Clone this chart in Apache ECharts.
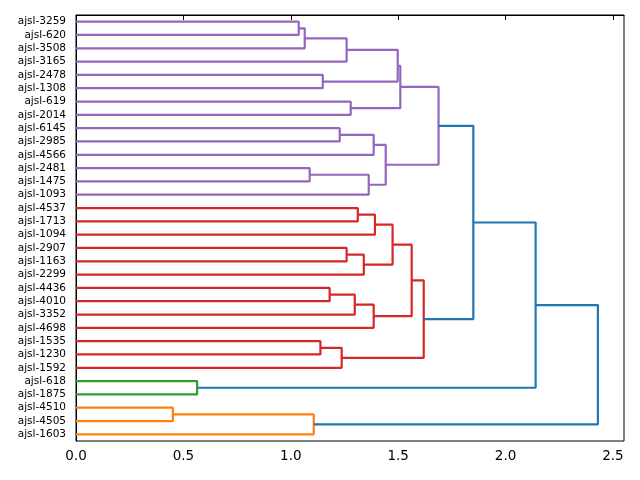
<!DOCTYPE html>
<html>
<head>
<meta charset="utf-8">
<script src="https://cdn.jsdelivr.net/npm/echarts@6/dist/echarts.min.js"></script>
<style>
  html, body { margin: 0; padding: 0; background: #fff; }
  #chart { width: 640px; height: 480px; }
</style>
</head>
<body>
<div id="chart"></div>
<script>
// leaves from top to bottom
var leafLabels = [
  'ajsl-3259', 'ajsl-620', 'ajsl-3508', 'ajsl-3165', 'ajsl-2478', 'ajsl-1308',
  'ajsl-619', 'ajsl-2014', 'ajsl-6145', 'ajsl-2985', 'ajsl-4566', 'ajsl-2481',
  'ajsl-1475', 'ajsl-1093', 'ajsl-4537', 'ajsl-1713', 'ajsl-1094', 'ajsl-2907',
  'ajsl-1163', 'ajsl-2299', 'ajsl-4436', 'ajsl-4010', 'ajsl-3352', 'ajsl-4698',
  'ajsl-1535', 'ajsl-1230', 'ajsl-1592', 'ajsl-618', 'ajsl-1875', 'ajsl-4510',
  'ajsl-4505', 'ajsl-1603'
];

// linkage: [childA, childB, distance]; new node ids start at 32
var merges = [
  [0, 1, 1.037],    // 32
  [32, 2, 1.065],   // 33
  [33, 3, 1.26],    // 34
  [4, 5, 1.149],    // 35
  [34, 35, 1.498],  // 36
  [6, 7, 1.279],    // 37
  [36, 37, 1.51],   // 38
  [8, 9, 1.228],    // 39
  [39, 10, 1.386],  // 40
  [11, 12, 1.088],  // 41
  [41, 13, 1.363],  // 42
  [40, 42, 1.442],  // 43
  [38, 43, 1.688],  // 44
  [14, 15, 1.312],  // 45
  [45, 16, 1.392],  // 46
  [17, 18, 1.26],   // 47
  [47, 19, 1.34],   // 48
  [46, 48, 1.474],  // 49
  [20, 21, 1.181],  // 50
  [50, 22, 1.298],  // 51
  [51, 23, 1.386],  // 52
  [49, 52, 1.563],  // 53
  [24, 25, 1.138],  // 54
  [54, 26, 1.237],  // 55
  [53, 55, 1.619],  // 56
  [44, 56, 1.85],   // 57
  [27, 28, 0.564],  // 58
  [57, 58, 2.14],   // 59
  [29, 30, 0.451],  // 60
  [60, 31, 1.107],  // 61
  [59, 61, 2.43]    // 62
];

var xTicks = [0, 0.5, 1, 1.5, 2, 2.5];

var aboveColor = '#1f77b4';
var clusterColors = ['#ff7f0e', '#2ca02c', '#d62728', '#9467bd'];

var n = leafLabels.length;
var maxDist = Math.max.apply(null, merges.map(function (m) { return m[2]; }));
var threshold = 0.7 * maxDist;

// node position (leaf centre) and height
var pos = [], height = [];
for (var i = 0; i < n; i++) { pos[i] = i + 0.5; height[i] = 0; }
merges.forEach(function (m, k) {
  pos[n + k] = (pos[m[0]] + pos[m[1]]) / 2;
  height[n + k] = m[2];
});

// colour links like scipy: clusters coloured in order from the bottom leaf
var linkColor = {};
var nextColor = 0;
function paint(node, color) {
  if (node < n) return;
  var m = merges[node - n];
  var c = color;
  if (!c) {
    if (m[2] > threshold) {
      linkColor[node] = aboveColor;
    } else {
      c = clusterColors[nextColor % clusterColors.length];
      nextColor++;
    }
  }
  if (c) linkColor[node] = c;
  paint(m[1], c);
  paint(m[0], c);
}
paint(n + merges.length - 1, null);

var series = merges.map(function (m, k) {
  var node = n + k;
  return {
    type: 'line',
    xAxisIndex: 0,
    yAxisIndex: 1,
    symbol: 'none',
    silent: true,
    lineStyle: { color: linkColor[node], width: 2.2 },
    data: [
      [height[m[0]], pos[m[0]]],
      [m[2], pos[m[0]]],
      [m[2], pos[m[1]]],
      [height[m[1]], pos[m[1]]]
    ]
  };
});

var chart = echarts.init(document.getElementById('chart'));
chart.setOption({
  animation: false,
  backgroundColor: '#fff',
  textStyle: { fontFamily: 'DejaVu Sans' },
  grid: {
    left: 76, right: 16, top: 15, bottom: 39,
    show: true, borderColor: '#000', borderWidth: 1
  },
  xAxis: {
    type: 'value',
    min: 0,
    max: maxDist * 1.05,
    interval: 0.5,
    splitLine: { show: false },
    axisLine: { show: true, lineStyle: { color: '#000', width: 1 } },
    axisTick: { show: true, length: 5, lineStyle: { color: '#000' },
      customValues: xTicks },
    axisLabel: {
      color: '#000', fontSize: 13.5, margin: 8,
      customValues: xTicks,
      formatter: function (v) { return v.toFixed(1); }
    }
  },
  yAxis: [{
    type: 'category',
    inverse: true,
    data: leafLabels,
    axisLine: { show: true, lineStyle: { color: '#000', width: 1 } },
    axisTick: { show: false },
    splitLine: { show: false },
    axisLabel: { color: '#000', fontSize: 10.5, margin: 10, interval: 0 }
  }, {
    type: 'value',
    inverse: true,
    min: 0,
    max: n,
    show: false,
    splitLine: { show: false }
  }],
  series: series
});
</script>
</body>
</html>
